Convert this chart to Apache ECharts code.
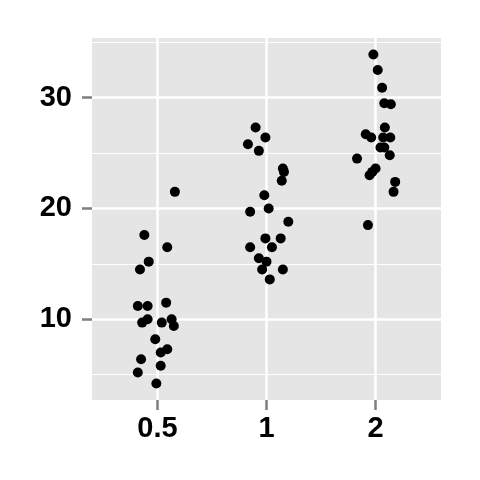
<!DOCTYPE html>
<html>
<head>
<meta charset="utf-8">
<script src="https://cdn.jsdelivr.net/npm/echarts@6/dist/echarts.min.js"></script>
<style>
  html, body { margin: 0; padding: 0; background: #fff; }
  #chart { width: 480px; height: 480px; }
</style>
</head>
<body>
<div id="chart"></div>
<script>
// dose groups on the x axis
const doseLabels = ['0.5', '1', '2']

// tooth length per dose
const lenDose05 = [21.5, 17.6, 16.5, 15.2, 14.5, 11.2, 11.2, 11.5, 10.0, 9.7, 9.7, 10.0, 9.4, 8.2, 7.3, 7.0, 6.4, 5.8, 5.2, 4.2]
const lenDose1 = [27.3, 26.4, 25.8, 25.2, 23.6, 23.3, 22.5, 21.2, 20.0, 19.7, 18.8, 17.3, 17.3, 16.5, 16.5, 15.5, 15.2, 14.5, 14.5, 13.6]
const lenDose2 = [33.9, 32.5, 30.9, 29.5, 29.4, 27.3, 26.7, 26.4, 26.4, 26.4, 25.5, 25.5, 24.8, 24.5, 23.6, 23.3, 23.0, 22.4, 21.5, 18.5]

// horizontal jitter of each point, in category widths
const jitterDose05 = [0.16, -0.12, 0.09, -0.08, -0.16, -0.18, -0.09, 0.08, -0.09, -0.14, 0.04, 0.13, 0.15, -0.02, 0.09, 0.03, -0.15, 0.03, -0.18, -0.01]
const jitterDose1 = [-0.10, -0.01, -0.17, -0.07, 0.15, 0.16, 0.14, -0.02, 0.02, -0.15, 0.20, -0.01, 0.13, -0.15, 0.05, -0.07, 0, -0.04, 0.15, 0.03]
const jitterDose2 = [-0.02, 0.02, 0.06, 0.08, 0.14, 0.085, -0.09, -0.04, 0.07, 0.135, 0.045, 0.08, 0.13, -0.17, 0, -0.03, -0.055, 0.18, 0.165, -0.07]

const yTicks = [10, 20, 30]
const yMinorTicks = [5, 15, 25, 35]
const xTicks = [1, 2, 3]

const groups = [
	[lenDose05, jitterDose05],
	[lenDose1, jitterDose1],
	[lenDose2, jitterDose2]
]
let points = []
groups.map((g, i) => {
	g[0].map((len, j) => {
		points.push([i + 1 + g[1][j], len])
	})
})

const labelFont = {
	fontFamily: 'Liberation Sans, Arial, sans-serif',
	fontWeight: 'bold',
	fontSize: 29,
	color: '#000'
}
const tickStyle = { color: '#7F7F7F', width: 2.5 }

const chart = echarts.init(document.getElementById('chart'), null, { renderer: 'canvas' })
chart.setOption({
	animation: false,
	backgroundColor: '#fff',
	grid: {
		left: 92, right: 39, top: 38, bottom: 80,
		show: true, backgroundColor: '#E5E5E5', borderWidth: 0
	},
	xAxis: {
		type: 'value',
		min: 0.4,
		max: 3.6,
		axisLine: { show: false },
		axisTick: { show: true, length: 10, lineStyle: tickStyle, customValues: xTicks },
		axisLabel: Object.assign({
			customValues: xTicks,
			margin: 14,
			formatter: v => doseLabels[Math.round(v) - 1]
		}, labelFont),
		splitLine: { show: true, lineStyle: { color: '#fff', width: 2.5 } }
	},
	yAxis: [{
		type: 'value',
		min: 2.715,
		max: 35.385,
		axisLine: { show: false },
		axisTick: { show: true, length: 10, lineStyle: tickStyle, customValues: yTicks },
		axisLabel: Object.assign({ customValues: yTicks, margin: 20 }, labelFont),
		splitLine: { show: true, lineStyle: { color: '#fff', width: 2.5 } }
	}, {
		type: 'value',
		position: 'left',
		min: 2.715,
		max: 35.385,
		axisLine: { show: false },
		axisTick: { show: false, customValues: yMinorTicks },
		axisLabel: { show: false, customValues: yMinorTicks },
		splitLine: { show: true, lineStyle: { color: '#fff', width: 1 } }
	}],
	series: [{
		type: 'scatter',
		yAxisIndex: 0,
		symbol: 'circle',
		symbolSize: 10,
		itemStyle: { color: '#000', opacity: 1 },
		data: points
	}]
})
</script>
</body>
</html>
